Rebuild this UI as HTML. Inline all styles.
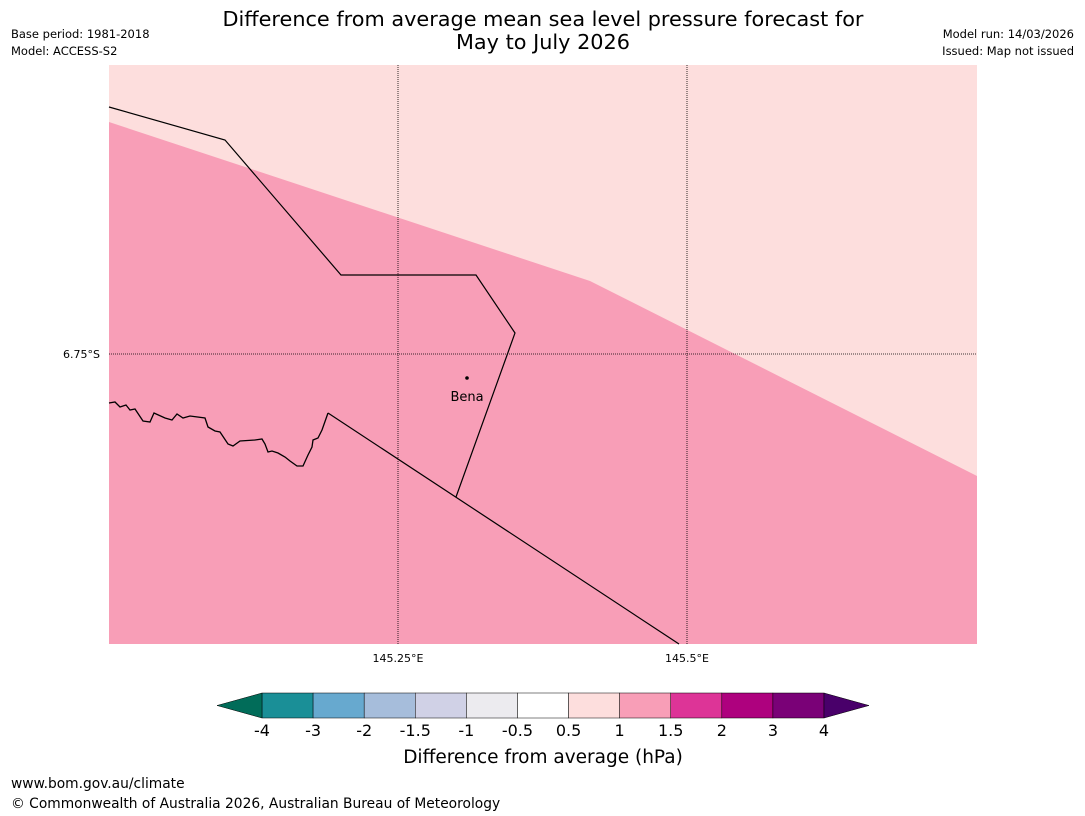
<!DOCTYPE html>
<html><head><meta charset="utf-8"><style>
body{margin:0;background:#fff;width:1085px;height:816px;overflow:hidden;font-family:"DejaVu Sans","Liberation Sans",sans-serif}
svg{position:absolute;left:0;top:0}
</style></head><body>
<svg id="s" width="1085" height="816">
<text x="543" y="26" font-size="20.8" text-anchor="middle">Difference from average mean sea level pressure forecast for</text>
<text x="543" y="49" font-size="20.8" text-anchor="middle">May to July 2026</text>
<text x="11" y="38" font-size="11.5">Base period: 1981-2018</text>
<text x="11" y="55" font-size="11.5">Model: ACCESS-S2</text>
<text x="1074" y="38" font-size="11.5" text-anchor="end">Model run: 14/03/2026</text>
<text x="1074" y="55" font-size="11.5" text-anchor="end">Issued: Map not issued</text>
<g id="map">
<rect x="109" y="65" width="868" height="579" fill="#fddedd"/>
<polygon points="109,122 590,281 977,476 977,644 109,644" fill="#f89eb7"/>
<polyline points="109,403 115,402 120,407 126,405 130,410 135,409 143,421 150,422 154,413 165,418 172,420 177,414 183,418 190,416 205,418 208,427 215,431 220,432 228,444 233,446 240,441 255,440 262,439 265,444 268,452 272,451 278,453 285,457 290,461 297,466 303,466 308,455 312,447 313,440 318,438 322,430 328,413" fill="none" stroke="#000" stroke-width="1.3"/>
<polyline points="109,107 225,140 341,275 476,275 515,333 456,497" fill="none" stroke="#000" stroke-width="1.2"/>
<line x1="328" y1="413" x2="679" y2="644" stroke="#000" stroke-width="1.2"/>
<line x1="398" y1="65" x2="398" y2="644" stroke="#000" stroke-width="0.8" stroke-dasharray="1,1"/>
<line x1="687" y1="65" x2="687" y2="644" stroke="#000" stroke-width="0.8" stroke-dasharray="1,1"/>
<line x1="109" y1="354" x2="977" y2="354" stroke="#000" stroke-width="0.8" stroke-dasharray="1,1"/>
<circle cx="467" cy="378" r="1.8" fill="#000"/>
<text x="467" y="401" font-size="13" text-anchor="middle">Bena</text>
</g>
<text x="100" y="358" font-size="11" text-anchor="end">6.75°S</text>
<text x="398" y="662" font-size="11" text-anchor="middle">145.25°E</text>
<text x="687" y="662" font-size="11" text-anchor="middle">145.5°E</text>
<g id="cbar"></g>
<text x="543" y="763" font-size="18.5" text-anchor="middle">Difference from average (hPa)</text>
<text x="11" y="788" font-size="13.8">www.bom.gov.au/climate</text>
<text x="11" y="808" font-size="13.8">© Commonwealth of Australia 2026, Australian Bureau of Meteorology</text>
</svg>
<script>
const tickLabels=["-4","-3","-2","-1.5","-1","-0.5","0.5","1","1.5","2","3","4"];
const binColors=["#1a8f97","#67a9cf","#a6bddb","#d0d1e6","#ecebef","#ffffff","#fddedd","#f89eb7","#dd3497","#ae017e","#7a0177"];
const underColor="#016c59";
const overColor="#49006a";
const NS="http://www.w3.org/2000/svg";
const g=document.getElementById('cbar');
const x0=262,x1=824,y0=693,y1=718;
const w=(x1-x0)/binColors.length;
function bx(i){return x0+i*w;}
binColors.forEach((c,i)=>{
 const r=document.createElementNS(NS,'rect');
 r.setAttribute('x',bx(i));r.setAttribute('y',y0);r.setAttribute('width',w);r.setAttribute('height',y1-y0);
 r.setAttribute('fill',c);r.setAttribute('stroke','#000');r.setAttribute('stroke-width','0.5');
 
 
 g.appendChild(r);
});
const ym=(y0+y1)/2;
const lt=document.createElementNS(NS,'polygon');
lt.setAttribute('points',`${x0},${y0} ${x0-45},${ym} ${x0},${y1}`);lt.setAttribute('fill',underColor);lt.setAttribute('stroke','#000');lt.setAttribute('stroke-width','0.5');


g.appendChild(lt);
const rt=document.createElementNS(NS,'polygon');
rt.setAttribute('points',`${x1},${y0} ${x1+45},${ym} ${x1},${y1}`);rt.setAttribute('fill',overColor);rt.setAttribute('stroke','#000');rt.setAttribute('stroke-width','0.5');


g.appendChild(rt);
tickLabels.forEach((t,i)=>{
 const tx=document.createElementNS(NS,'text');
 tx.setAttribute('x',bx(i));tx.setAttribute('y',736);tx.setAttribute('font-size','16');tx.setAttribute('text-anchor','middle');
 tx.textContent=t;
 
 
 g.appendChild(tx);
});
</script>
</body></html>
